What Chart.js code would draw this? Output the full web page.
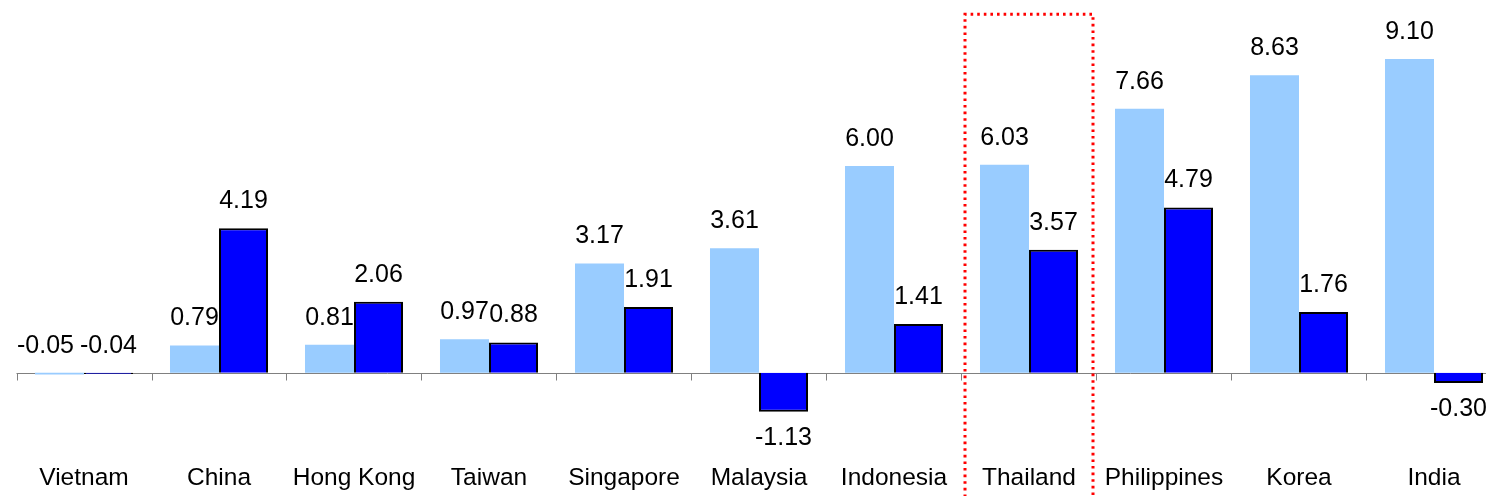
<!DOCTYPE html>
<html>
<head>
<meta charset="utf-8">
<script src="https://cdn.jsdelivr.net/npm/chart.js@4.4.1/dist/chart.umd.min.js"></script>
<style>
  html, body { margin: 0; padding: 0; background: #ffffff; overflow: hidden; }
  #wrap { width: 1486px; height: 496px; overflow: hidden; position: relative; }
  canvas { display: block; }
</style>
</head>
<body>
<div id="wrap"><canvas id="c" width="1520" height="520"></canvas></div>
<script>
// ---- Data ----
const categories = ["Vietnam", "China", "Hong Kong", "Taiwan", "Singapore", "Malaysia", "Indonesia", "Thailand", "Philippines", "Korea", "India"];
const seriesLight = [-0.05, 0.79, 0.81, 0.97, 3.17, 3.61, 6.00, 6.03, 7.66, 8.63, 9.10];
const seriesDark  = [-0.04, 4.19, 2.06, 0.88, 1.91, -1.13, 1.41, 3.57, 4.79, 1.76, -0.30];
const highlightCategory = "Thailand";

const FONT = "'Liberation Sans', Arial, 'DejaVu Sans', sans-serif";
// small manual nudges of individual value labels (dataset index, point index, dx)
const labelNudges = [{ ds: 0, i: 0, dx: -14 }];

const zeroAxis = {
  id: 'zeroAxis',
  beforeDatasetsDraw(chart) {
    const xs = chart.scales.x, ys = chart.scales.y, ca = chart.chartArea;
    const y0 = Math.round(ys.getPixelForValue(0)) + 0.5;
    const half = (xs.getPixelForValue(1) - xs.getPixelForValue(0)) / 2;
    const ctx = chart.ctx;
    ctx.save();
    ctx.strokeStyle = "#808080";
    ctx.lineWidth = 1;
    ctx.beginPath();
    ctx.moveTo(ca.left, y0);
    ctx.lineTo(ca.right, y0);
    for (let i = 0; i <= categories.length; i++) {
      const x = Math.round(xs.getPixelForValue(0) - half + 2 * half * i) + 0.5;
      ctx.moveTo(x, y0);
      ctx.lineTo(x, y0 + 7);
    }
    ctx.stroke();
    ctx.restore();
  }
};

const dataLabels = {
  id: 'dataLabels',
  afterDatasetsDraw(chart) {
    const ctx = chart.ctx;
    ctx.save();
    ctx.font = "25px " + FONT;
    ctx.fillStyle = "#000000";
    ctx.textAlign = "center";
    ctx.textBaseline = "middle";
    chart.data.datasets.forEach((ds, di) => {
      const meta = chart.getDatasetMeta(di);
      meta.data.forEach((el, i) => {
        const v = ds.data[i];
        const txt = v.toFixed(2);
        let y;
        if (v >= 0) {
          y = el.y - 27;
        } else if (Math.abs(v) < 0.1) {
          y = el.base - 27;
        } else {
          y = el.y + 26;
        }
        let dx = 0;
        labelNudges.forEach(n => { if (n.ds === di && n.i === i) dx = n.dx; });
        ctx.fillText(txt, el.x + dx, y);
      });
    });
    ctx.restore();
  }
};

const highlightBox = {
  id: 'highlightBox',
  afterDraw(chart) {
    const xs = chart.scales.x, ys = chart.scales.y;
    const idx = categories.indexOf(highlightCategory);
    if (idx < 0) return;
    const half = (xs.getPixelForValue(1) - xs.getPixelForValue(0)) / 2;
    const cx = xs.getPixelForValue(idx);
    const left = cx - half + 3.5;
    const right = cx + half - 3.5;
    const top = ys.getPixelForValue(10.4);
    const bottom = chart.height + 10;
    const ctx = chart.ctx;
    ctx.save();
    ctx.strokeStyle = "#ff0000";
    ctx.lineWidth = 3;
    ctx.setLineDash([2.6, 4]);
    ctx.beginPath();
    ctx.moveTo(left, bottom);
    ctx.lineTo(left, top);
    ctx.lineTo(right, top);
    ctx.lineTo(right, bottom);
    ctx.stroke();
    ctx.restore();
  }
};

new Chart(document.getElementById('c'), {
  type: 'bar',
  data: {
    labels: categories,
    datasets: [
      {
        label: "Series 1",
        data: seriesLight,
        backgroundColor: "#99CCFF",
        borderWidth: 0,
        categoryPercentage: 0.726,
        barPercentage: 1.0
      },
      {
        label: "Series 2",
        data: seriesDark,
        backgroundColor: "#0000FF",
        borderColor: "#000000",
        borderWidth: 2,
        categoryPercentage: 0.726,
        barPercentage: 1.0
      }
    ]
  },
  options: {
    responsive: false,
    animation: false,
    devicePixelRatio: 1,
    layout: { padding: { left: 16.5, right: 18.5, top: 28, bottom: 21.7 } },
    plugins: {
      legend: { display: false },
      tooltip: { enabled: false },
      title: { display: false }
    },
    scales: {
      x: {
        position: 'bottom',
        offset: true,
        grid: { display: false, drawTicks: false },
        border: { display: false },
        ticks: { color: "#000000", font: { family: FONT, size: 24.5 }, padding: 5, maxRotation: 0, autoSkip: false }
      },
      y: {
        display: false,
        min: -2.5,
        max: 10,
        grid: { display: false }
      }
    }
  },
  plugins: [zeroAxis, dataLabels, highlightBox]
});
</script>
</body>
</html>
